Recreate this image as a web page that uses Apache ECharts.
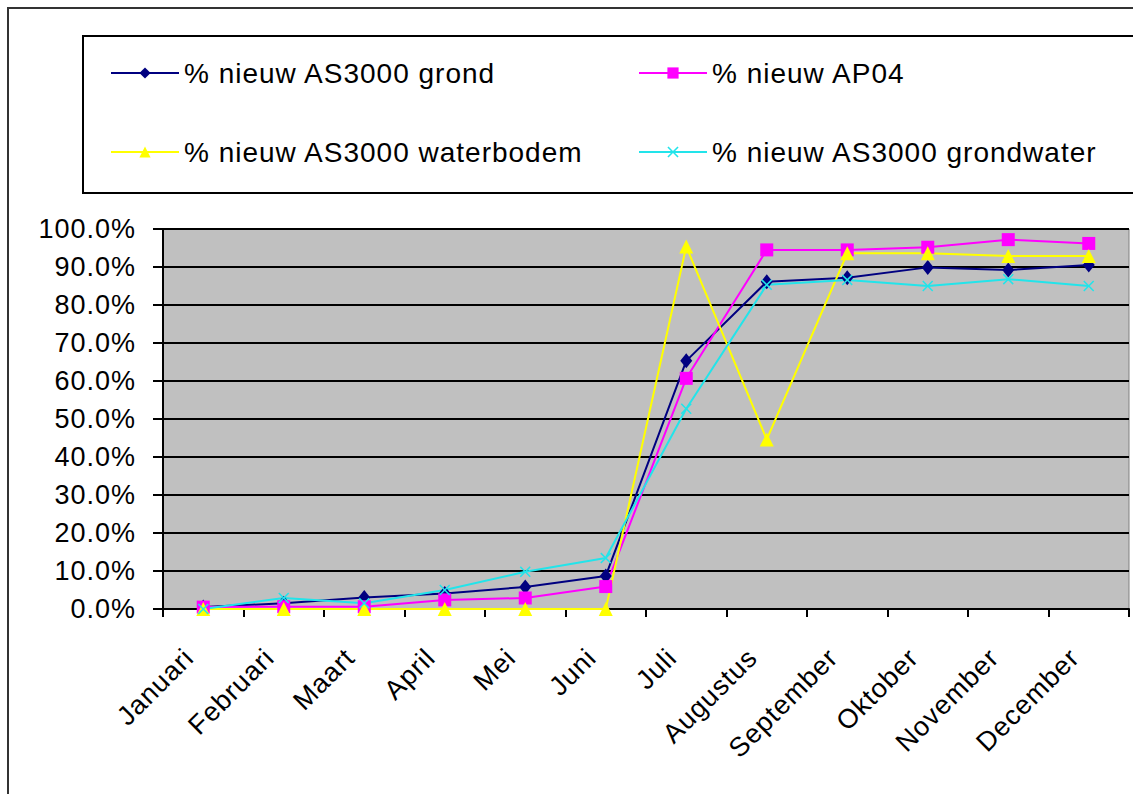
<!DOCTYPE html>
<html>
<head>
<meta charset="utf-8">
<script src="https://cdn.jsdelivr.net/npm/echarts@6/dist/echarts.min.js"></script>
<style>
  html, body { margin: 0; padding: 0; background: #fff; }
  #main { width: 1133px; height: 794px; }
  #main text { letter-spacing: 1px; }
</style>
</head>
<body>
<div id="main"></div>
<script>
const categories = ['Januari','Februari','Maart','April','Mei','Juni','Juli','Augustus','September','Oktober','November','December'];
const seriesNames = ['% nieuw AS3000 grond','% nieuw AP04','% nieuw AS3000 waterbodem','% nieuw AS3000 grondwater'];
const grond      = [0.005, 0.015, 0.030, 0.041, 0.058, 0.087, 0.653, 0.861, 0.872, 0.899, 0.892, 0.905];
const ap04       = [0.005, 0.006, 0.006, 0.024, 0.029, 0.059, 0.607, 0.945, 0.945, 0.952, 0.972, 0.962];
const waterbodem = [0.000, 0.000, 0.000, 0.000, 0.000, 0.000, 0.954, 0.446, 0.936, 0.936, 0.929, 0.929];
const grondwater = [0.000, 0.029, 0.015, 0.050, 0.098, 0.134, 0.527, 0.853, 0.866, 0.850, 0.868, 0.850];
const yMin = 0, yMax = 1, yInterval = 0.1;

const FONT = 'Liberation Sans';
const crossPath = 'path://M0,1L1,0L5,4L9,0L10,1L6,5L10,9L9,10L5,6L1,10L0,9L4,5Z';

function mkSeries(name, data, color, symbol, size) {
  return {
    name: name, type: 'line', data: data,
    symbol: symbol, symbolSize: size,
    lineStyle: { color: color, width: 2 },
    itemStyle: { color: color },
    emphasis: { disabled: true }
  };
}
function mkLegend(name, left, top) {
  return {
    data: [name], left: left, top: top, padding: 0,
    itemWidth: 68, itemHeight: 14, itemGap: 0,
    textStyle: { fontFamily: FONT, fontSize: 28, color: '#000' },
    selectedMode: false
  };
}

const chart = echarts.init(document.getElementById('main'), null, { renderer: 'svg' });
chart.setOption({
  animation: false,
  backgroundColor: '#fff',
  graphic: [
    { type: 'rect', shape: { x: 8, y: 8, width: 1300, height: 1000 }, style: { fill: 'none', stroke: '#333', lineWidth: 2 }, z: -1 },
    { type: 'rect', shape: { x: 83, y: 36, width: 1200, height: 157 }, style: { fill: 'none', stroke: '#000', lineWidth: 2 }, z: -1 }
  ],
  legend: [
    mkLegend(seriesNames[0], 110, 59),
    mkLegend(seriesNames[1], 638, 59),
    mkLegend(seriesNames[2], 110, 138),
    mkLegend(seriesNames[3], 638, 138)
  ],
  grid: {
    left: 163, right: 4, top: 229, bottom: 185,
    show: true, backgroundColor: '#c0c0c0', borderColor: '#808080', borderWidth: 1
  },
  xAxis: {
    type: 'category', data: categories, boundaryGap: true,
    axisLine: { lineStyle: { color: '#000', width: 2 } },
    axisTick: { show: true, length: 8, lineStyle: { color: '#000', width: 2 } },
    axisLabel: { rotate: 45, margin: 30, padding: [0, 20, 0, 0], fontFamily: FONT, fontSize: 27, color: '#000' },
    splitLine: { show: false }
  },
  yAxis: {
    type: 'value', min: yMin, max: yMax, interval: yInterval,
    axisLine: { show: true, lineStyle: { color: '#000', width: 2 } },
    axisTick: { show: true, length: 10, lineStyle: { color: '#000', width: 2 } },
    axisLabel: { margin: 27, fontFamily: FONT, fontSize: 27, color: '#000',
      formatter: v => (v * 100).toFixed(1) + '%' },
    splitLine: { show: true, lineStyle: { color: '#000', width: 2 } }
  },
  series: [
    mkSeries(seriesNames[0], grond, '#000080', 'diamond', [12, 15]),
    mkSeries(seriesNames[1], ap04, '#ff00ff', 'rect', 13),
    mkSeries(seriesNames[2], waterbodem, '#ffff00', 'triangle', 14),
    mkSeries(seriesNames[3], grondwater, '#22e4ea', crossPath, 11)
  ]
});
</script>
</body>
</html>
